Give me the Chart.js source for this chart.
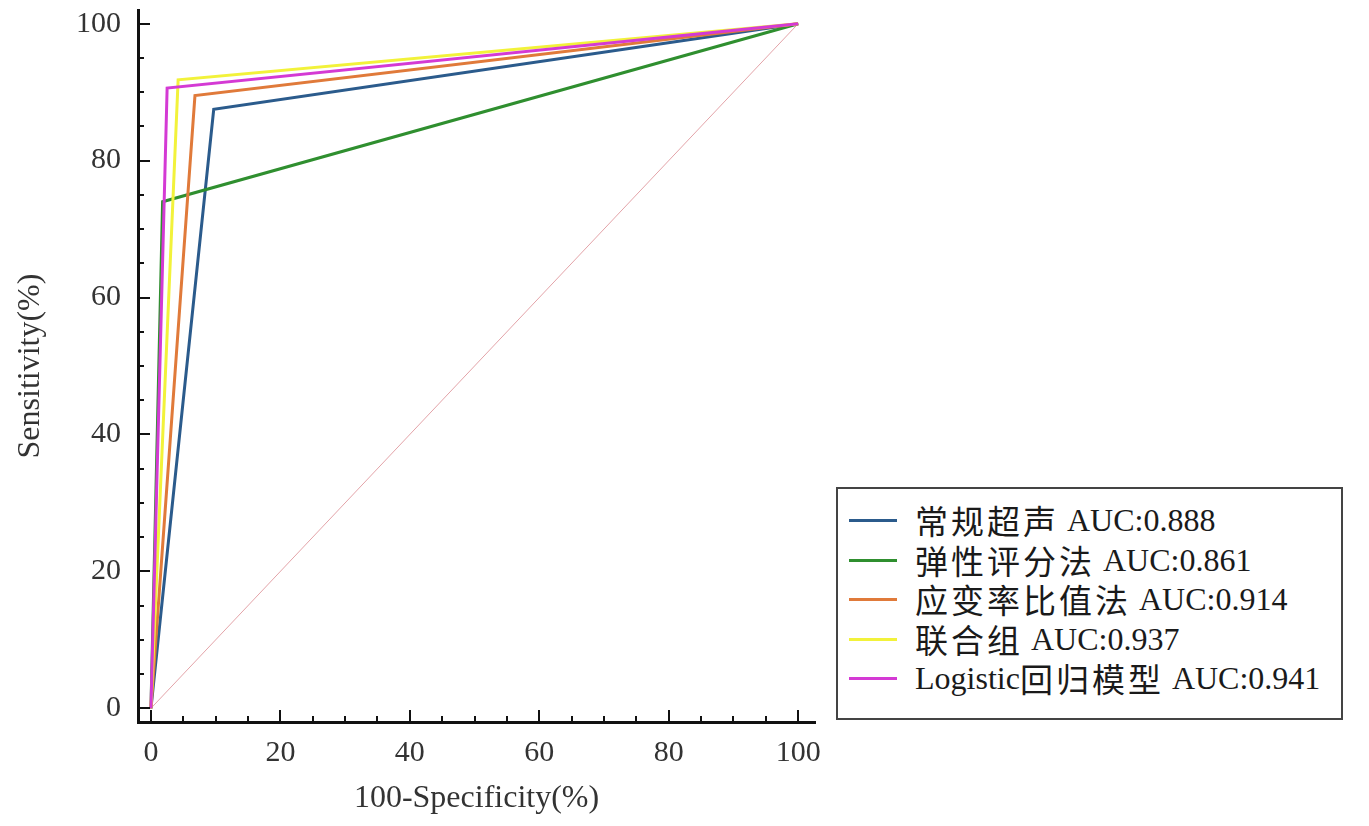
<!DOCTYPE html>
<html>
<head>
<meta charset="utf-8">
<script src="https://cdn.jsdelivr.net/npm/chart.js@4.4.0/dist/chart.umd.min.js"></script>
<style>
  body { margin: 0; background: #fff; }
  #wrap { position: relative; width: 1369px; height: 826px; }
  #legend {
    position: absolute; left: 836px; top: 487px; width: 503px; height: 217px;
    border: 2px solid #444; background: #fff; box-sizing: content-box;
    font-family: "Liberation Serif", "Noto Sans CJK SC", serif; font-size: 32px; color: #1a1a1a;
    padding-top: 12px;
  }
  .row { height: 39.5px; line-height: 39.5px; display: flex; align-items: center; white-space: nowrap; }
  .sw { width: 48px; height: 3px; margin-left: 11px; margin-right: 18px; }
  .cjk { font-family: "Noto Sans CJK SC", sans-serif; letter-spacing: 3px; font-size: 33px; }
</style>
</head>
<body>
<div id="wrap">
  <canvas id="myChart" width="1369" height="826"></canvas>
  <div id="legend"></div>
</div>
<script>
'use strict';

// legend labels (CJK part + AUC part)
let names = ['常规超声', '弹性评分法', '应变率比值法', '联合组', '回归模型'];
let prefixes = ['', '', '', '', 'Logistic'];
let aucs = ['0.888', '0.861', '0.914', '0.937', '0.941'];
let colors = ['#2b5b8c', '#2f8f2f', '#e07a3a', '#f2f23a', '#d43ad4'];

// ROC points: 100-Specificity (x) and Sensitivity (y)
let fpr = [
  [0, 9.7, 100],
  [0, 1.8, 100],
  [0, 6.8, 100],
  [0, 4.2, 100],
  [0, 2.5, 100],
];
let tpr = [
  [0, 87.5, 100],
  [0, 74.0, 100],
  [0, 89.5, 100],
  [0, 91.8, 100],
  [0, 90.6, 100],
];
let diagX = [0, 100];
let diagY = [0, 100];

let tickValues = [0, 20, 40, 60, 80, 100];

const ctx = document.getElementById('myChart');

let datasets = [];
for (let i = 0; i < names.length; i++) {
  let pts = [];
  for (let j = 0; j < fpr[i].length; j++) {
    pts.push({ x: fpr[i][j], y: tpr[i][j] });
  }
  datasets.push({
    label: prefixes[i] + names[i] + ' AUC:' + aucs[i],
    data: pts,
    borderColor: colors[i],
    borderWidth: 3,
    pointRadius: 0,
    tension: 0,
    fill: false,
    order: names.length - i,
  });
}
datasets.push({
  label: 'ref',
  data: diagX.map((v, k) => ({ x: v, y: diagY[k] })),
  borderColor: '#e3a3a8',
  borderWidth: 1,
  pointRadius: 0,
  order: 10,
});

// small inward tick marks, like the original plot
const innerTicks = {
  id: 'innerTicks',
  afterDraw(chart) {
    const c = chart.ctx;
    const xs = chart.scales.x;
    const ys = chart.scales.y;
    const area = chart.chartArea;
    c.save();
    c.strokeStyle = '#111';
    c.lineWidth = 2;
    for (let v = 0; v <= 100; v += 5) {
      let len = v % 20 === 0 ? 12 : 6;
      let px = Math.round(xs.getPixelForValue(v));
      c.beginPath();
      c.moveTo(px, area.bottom);
      c.lineTo(px, area.bottom - len);
      c.stroke();
      let py = Math.round(ys.getPixelForValue(v));
      c.beginPath();
      c.moveTo(area.left, py);
      c.lineTo(area.left + len, py);
      c.stroke();
    }
    c.restore();
  }
};

const tickFont = { family: 'Liberation Serif', size: 30 };
const titleFont = { family: 'Liberation Serif', size: 32 };

new Chart(ctx, {
  type: 'line',
  data: { datasets: datasets },
  plugins: [innerTicks],
  options: {
    responsive: false,
    animation: false,
    layout: { padding: { top: 10, right: 554, left: 0, bottom: 0 } },
    plugins: { legend: { display: false }, tooltip: { enabled: false } },
    scales: {
      x: {
        type: 'linear',
        min: -2,
        max: 102.6,
        afterBuildTicks: (s) => { s.ticks = tickValues.map(v => ({ value: v })); },
        afterFit: (s) => { s.height = 104; s.paddingLeft = 0; s.paddingRight = 0; },
        grid: { display: false },
        border: { display: true, color: '#111', width: 3 },
        ticks: { color: '#333', font: tickFont, padding: 5, maxRotation: 0 },
        title: { display: true, text: '100-Specificity(%)', color: '#333', font: titleFont, padding: { top: 0, bottom: 8 } },
      },
      y: {
        type: 'linear',
        min: -2,
        max: 102,
        afterBuildTicks: (s) => { s.ticks = tickValues.map(v => ({ value: v })); },
        afterFit: (s) => { s.width = 138; s.paddingTop = 0; s.paddingBottom = 0; },
        grid: { display: false },
        border: { display: true, color: '#111', width: 3 },
        ticks: { color: '#333', font: tickFont, padding: 9 },
        title: { display: true, text: 'Sensitivity(%)', color: '#333', font: titleFont, padding: { top: 11, bottom: 0 } },
      }
    }
  }
});

// html legend
let legendEl = document.getElementById('legend');
for (let i = 0; i < names.length; i++) {
  let row = document.createElement('div');
  row.className = 'row';
  row.innerHTML = '<span class="sw" style="background:' + colors[i] + '"></span>' +
    (prefixes[i] ? '<span>' + prefixes[i] + '</span>' : '') +
    '<span class="cjk">' + names[i] + '</span><span>&nbsp;AUC:' + aucs[i] + '</span>';
  legendEl.appendChild(row);
}
</script>
</body>
</html>
